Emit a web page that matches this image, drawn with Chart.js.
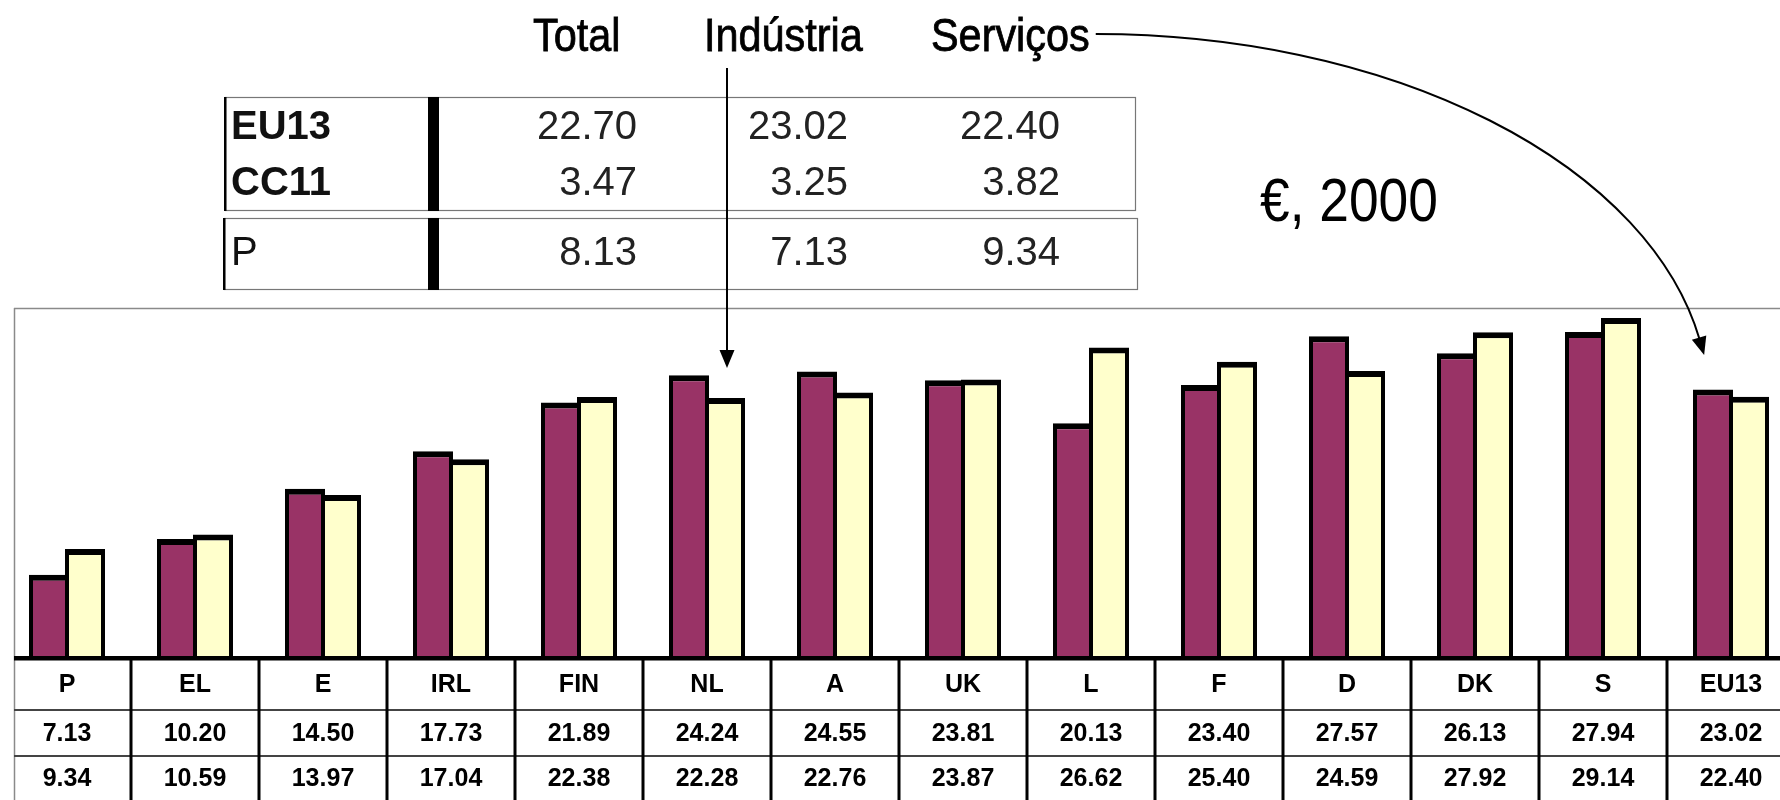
<!DOCTYPE html>
<html>
<head>
<meta charset="utf-8">
<script src="https://cdn.jsdelivr.net/npm/chart.js@4.4.1/dist/chart.umd.min.js"></script>
<style>
  html, body { margin: 0; padding: 0; background: #fff; overflow: hidden; }
  #wrap { width: 1800px; height: 800px; }
</style>
</head>
<body>
<div id="wrap"><canvas id="costChart" width="1800" height="800"></canvas></div>
<script>
// bottom table / bars
const countries = ["P", "EL", "E", "IRL", "FIN", "NL", "A", "UK", "L", "F", "D", "DK", "S", "EU13"];
const industry = [7.13, 10.20, 14.50, 17.73, 21.89, 24.24, 24.55, 23.81, 20.13, 23.40, 27.57, 26.13, 27.94, 23.02];
const services = [9.34, 10.59, 13.97, 17.04, 22.38, 22.28, 22.76, 23.87, 26.62, 25.40, 24.59, 27.92, 29.14, 22.40];

// small summary table at the top
const columnTitles = ["Total", "Indústria", "Serviços"];
const summaryRows = ["EU13", "CC11", "P"];
const summaryTotal = [22.70, 3.47, 8.13];
const summaryIndustry = [23.02, 3.25, 7.13];
const summaryServices = [22.40, 3.82, 9.34];
const unitLabel = "€, 2000";

const ARIAL = '"Liberation Sans", Arial, sans-serif';

function arrowHead(ctx, tx, ty, dx, dy, len, half) {
  const bx = tx - dx * len, by = ty - dy * len;
  ctx.beginPath();
  ctx.moveTo(tx, ty);
  ctx.lineTo(bx - dy * half, by + dx * half);
  ctx.lineTo(bx + dy * half, by - dx * half);
  ctx.closePath();
  ctx.fill();
}

// condensed look: squeeze a normal font horizontally
function narrowText(ctx, text, x, y, sx, weight) {
  ctx.save();
  ctx.translate(x, y);
  ctx.scale(sx, 1);
  ctx.fillText(text, 0, 0);
  if (weight) {
    ctx.lineWidth = weight;
    ctx.strokeText(text, 0, 0);
  }
  ctx.restore();
  return ctx.measureText(text).width * sx;
}

const decorPlugin = {
  id: "decor",
  afterDraw(chart) {
    const ctx = chart.ctx;
    const xs = chart.scales.x;
    const area = chart.chartArea;
    const half = (xs.getPixelForValue(1) - xs.getPixelForValue(0)) / 2;
    const left = 14, right = 1800, bottom = 800;
    const base = area.bottom;
    const row1 = 710, row2 = 756;

    ctx.save();

    // chart frame
    ctx.strokeStyle = "#8a8a8a";
    ctx.lineWidth = 1.5;
    ctx.beginPath();
    ctx.moveTo(left, area.top + 0.5);
    ctx.lineTo(right, area.top + 0.5);
    ctx.moveTo(left + 0.5, area.top);
    ctx.lineTo(left + 0.5, bottom);
    ctx.stroke();

    // table rows
    ctx.strokeStyle = "#444";
    ctx.lineWidth = 2;
    ctx.beginPath();
    ctx.moveTo(left, row1);
    ctx.lineTo(right, row1);
    ctx.moveTo(left, row2);
    ctx.lineTo(right, row2);
    ctx.stroke();

    // column dividers
    ctx.strokeStyle = "#000";
    ctx.lineWidth = 3;
    ctx.beginPath();
    for (let i = 1; i < countries.length; i++) {
      const cx = xs.getPixelForValue(i) - half;
      ctx.moveTo(cx, base);
      ctx.lineTo(cx, bottom);
    }
    ctx.stroke();

    // thick base line
    ctx.fillStyle = "#000";
    ctx.fillRect(left, base - 2, right - left, 4.5);

    // table text
    ctx.textAlign = "center";
    ctx.textBaseline = "middle";
    ctx.font = "bold 25px " + ARIAL;
    countries.forEach((c, i) => {
      const cx = xs.getPixelForValue(i);
      ctx.fillText(c, cx, 685);
      ctx.fillText(industry[i].toFixed(2), cx, 734);
      ctx.fillText(services[i].toFixed(2), cx, 779);
    });

    // summary table boxes
    ctx.strokeStyle = "#777";
    ctx.lineWidth = 1.2;
    ctx.strokeRect(225.5, 97.5, 910, 113);
    ctx.strokeRect(224.5, 218.5, 913, 71);
    ctx.fillStyle = "#000";
    ctx.fillRect(224, 97, 2.5, 114);
    ctx.fillRect(223, 218, 2.5, 72);
    ctx.fillRect(428, 97, 11, 114);
    ctx.fillRect(428, 218, 11, 72);

    const rowY = [128, 184, 254];
    ctx.textAlign = "left";
    summaryRows.forEach((r, i) => {
      ctx.font = (i < 2 ? "bold " : "") + "40px " + ARIAL;
      ctx.fillStyle = "#111";
      ctx.fillText(r, 231, rowY[i]);
    });
    ctx.textAlign = "right";
    ctx.font = "40px " + ARIAL;
    ctx.fillStyle = "#222";
    summaryRows.forEach((r, i) => {
      ctx.fillText(summaryTotal[i].toFixed(2), 637, rowY[i]);
      ctx.fillText(summaryIndustry[i].toFixed(2), 848, rowY[i]);
      ctx.fillText(summaryServices[i].toFixed(2), 1060, rowY[i]);
    });

    // column titles
    ctx.fillStyle = "#000";
    ctx.strokeStyle = "#000";
    ctx.textAlign = "left";
    ctx.textBaseline = "alphabetic";
    ctx.font = "46px " + ARIAL;
    const titleX = [533, 704, 931];
    let servEnd = 0;
    columnTitles.forEach((t, i) => {
      const w = narrowText(ctx, t, titleX[i], 51, 0.9, 0.8);
      servEnd = titleX[i] + w;
    });

    // unit label
    ctx.font = "62px " + ARIAL;
    narrowText(ctx, unitLabel, 1260, 221, 0.86);

    // straight arrow to NL industry bar
    ctx.lineWidth = 2;
    ctx.beginPath();
    ctx.moveTo(727, 68);
    ctx.lineTo(727, 355);
    ctx.stroke();
    arrowHead(ctx, 727, 368, 0, 1, 18, 7.5);

    // curved arrow to EU13
    const ecx = servEnd + 6, ecy = 404, rx = 1709 - ecx, ry = 370;
    const endA = -0.175;
    ctx.beginPath();
    ctx.ellipse(ecx, ecy, rx, ry, 0, -Math.PI / 2, endA);
    ctx.stroke();
    const ex = ecx + rx * Math.cos(endA), ey = ecy + ry * Math.sin(endA);
    let dx = -rx * Math.sin(endA), dy = ry * Math.cos(endA);
    const dl = Math.hypot(dx, dy);
    dx /= dl; dy /= dl;
    arrowHead(ctx, ex + dx * 16, ey + dy * 16, dx, dy, 18, 7.5);

    ctx.restore();
  }
};

const ctx = document.getElementById("costChart").getContext("2d");

new Chart(ctx, {
  type: "bar",
  data: {
    labels: countries,
    datasets: [
      {
        label: "Indústria",
        data: industry,
        backgroundColor: "#993366",
        borderColor: "#000",
        borderWidth: { top: 6, left: 4, right: 4, bottom: 0 },
        borderSkipped: "start",
        barPercentage: 1.111,
        categoryPercentage: 0.5625,
      },
      {
        label: "Serviços",
        data: services,
        backgroundColor: "#ffffcc",
        borderColor: "#000",
        borderWidth: { top: 6, left: 4, right: 4, bottom: 0 },
        borderSkipped: "start",
        barPercentage: 1.111,
        categoryPercentage: 0.5625,
      },
    ],
  },
  options: {
    responsive: false,
    animation: false,
    layout: { padding: { left: 3, right: 5, top: 308, bottom: 142 } },
    plugins: {
      legend: { display: false },
      tooltip: { enabled: false },
    },
    scales: {
      x: { display: false, offset: true, grid: { display: false } },
      y: { display: false, min: 0, max: 30 },
    },
  },
  plugins: [decorPlugin],
});
</script>
</body>
</html>
